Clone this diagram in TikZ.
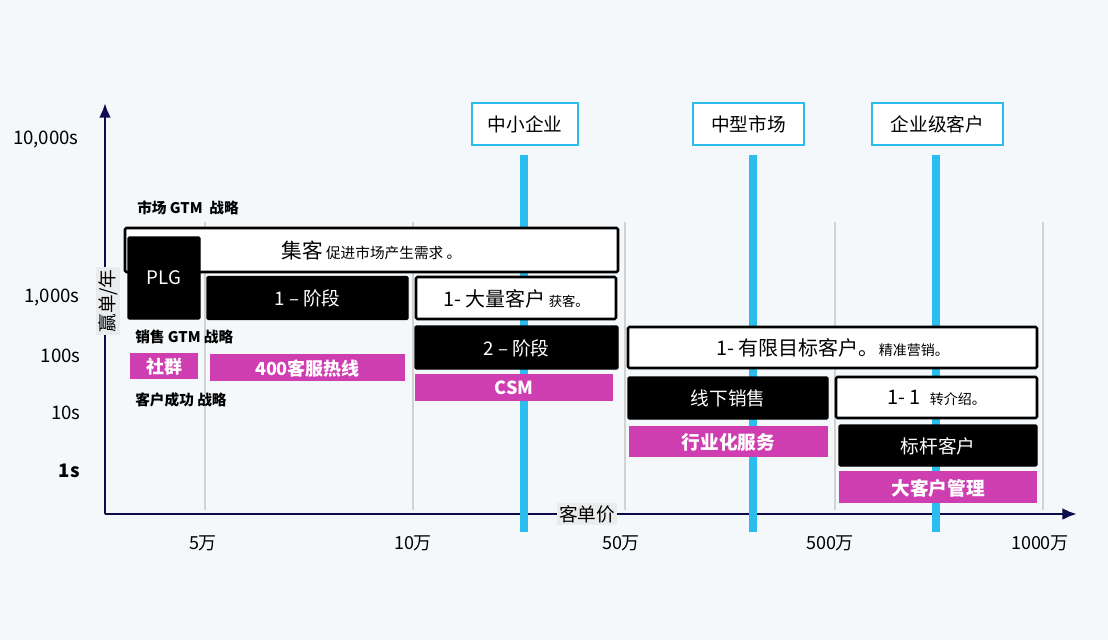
\documentclass[tikz,border=0pt]{standalone}
\usepackage{fontspec}
\setmainfont{Noto Sans CJK SC}
\usetikzlibrary{arrows.meta}
\definecolor{bgc}{HTML}{F5F8FA}
\definecolor{navy}{HTML}{0B0B4D}
\definecolor{skyb}{HTML}{2ABDEE}
\definecolor{mag}{HTML}{CF3EB1}
\definecolor{gridc}{HTML}{D0D2D4}
\definecolor{lblbg}{HTML}{E9EBED}
\newcommand{\fs}[1]{\fontsize{#1}{#1}\selectfont}
\def\u{0.75pt}
\tikzset{
  box/.style={minimum width={#1*\u}, inner sep=0pt, outer sep=0pt, text depth=0pt},
  blkbox/.style={box=#1, fill=black, draw=black, text=white, rounded corners=1pt, line width=1pt},
  whtbox/.style={box=#1, fill=white, draw=black, line width=1.9pt, rounded corners=1pt},
  magbox/.style={box=#1, fill=mag, text=white, font=\fs{13.5}\bfseries},
  hdrbox/.style={box=#1, fill=white, draw=skyb, line width=2pt, font=\fs{14}, minimum height={42*\u}},
  seclbl/.style={anchor=west, font=\fs{11}\bfseries, inner sep=0pt},
  ytick/.style={anchor=east, font=\fs{14}, inner sep=0pt},
  xtick/.style={font=\fs{13.5}, inner sep=0pt},
  gridln/.style={draw=gridc, line width=0.8pt},
  blueln/.style={draw=skyb, line width=5.5pt},
  axisln/.style={draw=navy, line width=2.2pt, -{Latex[length=11pt,width=9pt]}}
}
\begin{document}
\begin{tikzpicture}[x=0.75pt, y=-0.75pt]
\fill[bgc] (0,0) rectangle (1108,640);
\useasboundingbox (0,0) rectangle (1108,640);
% grid lines
\foreach \gx in {205,413,625,835,1043} {
  \coordinate (gt\gx) at (\gx,222);
  \coordinate (gb\gx) at (\gx,510);
  \draw[gridln] (gt\gx) -- (gb\gx);
}
% axes
\coordinate (org) at (105,514);
\coordinate (ytip) at (105,103);
\coordinate (xtip) at (1077,514);
\draw[axisln] (org) -- (ytip);
\draw[axisln] (org) -- (xtip);
% blue lines
\foreach \bx/\nm in {524/a,753/b,936/c} {
  \coordinate (bt\nm) at (\bx,155);
  \coordinate (bb\nm) at (\bx,532);
  \draw[blueln] (bt\nm) -- (bb\nm);
}
% headers
\node[hdrbox=106] (hsmb) at (525,124) {中小企业};
\node[hdrbox=111] (hmid) at (748.5,124) {中型市场};
\node[hdrbox=131] (hent) at (937.5,124) {企业级客户};
% axis labels
\node[fill=lblbg, rotate=90, font=\fs{14}, inner sep=1.5pt, minimum width={58*\u}] (ylbl) at (108,301) {赢单/年};
\node[fill=lblbg, font=\fs{14}, inner sep=1.5pt] (xlbl) at (587,514) {客单价};
% y ticks
\node[ytick] (y1) at (79,139) {10,000s};
\node[ytick] (y2) at (80,297) {1,000s};
\node[ytick] (y3) at (81,356) {100s};
\node[ytick] (y4) at (81,413) {10s};
\node[ytick, font=\fs{14}\bfseries] (y5) at (80,471) {1s};
% x ticks
\node[xtick] (x1) at (203,543) {5万};
\node[xtick] (x2) at (413,543) {10万};
\node[xtick] (x3) at (621,543) {50万};
\node[xtick] (x4) at (830,543) {500万};
\node[xtick] (x5) at (1040,543) {1000万};
% section labels
\node[seclbl] (s1) at (137,208) {市场 GTM\ \ 战略};
\node[seclbl] (s2) at (135,337) {销售 GTM 战略};
\node[seclbl] (s3) at (135,400) {客户成功 战略};
% boxes
\node[whtbox=493, minimum height={44*\u}] (jike) at (371.5,250) {{\fs{15.5}集客}\ {\fs{11}促进市场产生需求\ 。}};
\node[blkbox=72, minimum height={82*\u}, font=\fs{14}] (plg) at (164,278) {PLG};
\node[blkbox=201, minimum height={43*\u}, font=\fs{14}] (st1) at (307.5,298) {1 – 阶段};
\node[whtbox=200, minimum height={42*\u}] (dl) at (516,298) {{\fs{15}1- 大量客户}\ {\fs{10}获客。}};
\node[blkbox=203, minimum height={43*\u}, font=\fs{14}] (st2) at (516.5,347.5) {2 – 阶段};
\node[magbox=68, minimum height={26*\u}] (sq) at (164,366) {社群};
\node[magbox=195, minimum height={27*\u}] (hl) at (307.5,367.5) {400客服热线};
\node[magbox=198, minimum height={27*\u}] (csm) at (514,387.5) {CSM};
\node[whtbox=409, minimum height={41*\u}] (yx) at (832.5,347.5) {{\fs{15}1- 有限目标客户。}{\fs{10.5}精准营销。}};
\node[blkbox=200, minimum height={42*\u}, font=\fs{14}] (xx) at (728,398) {线下销售};
\node[whtbox=201, minimum height={41*\u}] (zj) at (936.5,397.5) {{\fs{15}1- 1}\ \ \ {\fs{10.5}转介绍。}};
\node[magbox=199, minimum height={31*\u}, font=\fs{14}\bfseries] (hy) at (728.5,441.5) {行业化服务};
\node[blkbox=198, minimum height={41*\u}, font=\fs{14}] (bg) at (938,445.5) {标杆客户};
\node[magbox=198, minimum height={32*\u}, font=\fs{14}\bfseries] (dk) at (938,487) {大客户管理};
\end{tikzpicture}
\end{document}
